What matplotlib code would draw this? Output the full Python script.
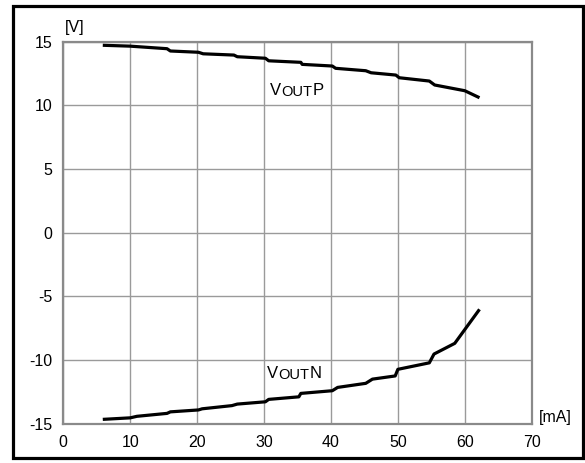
"""Output voltage vs. load current (VOUTP / VOUTN)."""

import matplotlib.pyplot as plt
import matplotlib.patches as mpatches

plt.rcParams["font.family"] = ["Liberation Sans", "DejaVu Sans"]
plt.rcParams["axes.unicode_minus"] = False

# load current [mA] and output voltages [V]
i_p = [5.9, 10.0, 15.5, 16.0, 20.2, 20.9, 25.5, 26.0, 30.2, 30.7, 35.5, 35.7,
       40.2, 40.7, 45.2, 46.0, 49.7, 50.2, 54.7, 55.5, 60.0, 62.2]
v_p = [14.72, 14.65, 14.45, 14.27, 14.17, 14.05, 13.95, 13.82, 13.70, 13.50,
       13.38, 13.22, 13.09, 12.91, 12.72, 12.56, 12.38, 12.17, 11.91, 11.60,
       11.15, 10.60]

i_n = [5.9, 10.0, 11.0, 15.5, 16.0, 20.2, 20.75, 25.2, 26.0, 30.2, 30.7, 35.2,
       35.5, 40.2, 41.0, 45.2, 46.2, 49.6, 50.0, 54.7, 55.4, 58.5, 62.2]
v_n = [-14.66, -14.54, -14.42, -14.19, -14.07, -13.92, -13.83, -13.58, -13.46,
       -13.28, -13.09, -12.89, -12.62, -12.41, -12.15, -11.83, -11.50, -11.25,
       -10.73, -10.22, -9.53, -8.69, -6.02]

x_ticks = [0, 10, 20, 30, 40, 50, 60, 70]
y_ticks = [-15, -10, -5, 0, 5, 10, 15]

fig = plt.figure(figsize=(5.85, 4.63), dpi=100)
ax = fig.add_axes([63.3 / 585, 39.3 / 463, 468.4 / 585, 382.0 / 463])

ax.plot(i_p, v_p, color="black", linewidth=2.3, solid_capstyle="butt")
ax.plot(i_n, v_n, color="black", linewidth=2.3, solid_capstyle="butt")

ax.set_xlim(0, 70)
ax.set_ylim(-15, 15)
ax.set_xticks(x_ticks)
ax.set_yticks(y_ticks)
ax.tick_params(length=0, labelsize=11.5, pad=8)
ax.grid(True, color="#9a9a9a", linewidth=1.0)
ax.set_axisbelow(True)
for sp in ax.spines.values():
    sp.set_color("#8a8a8a")
    sp.set_linewidth(1.6)

# unit labels
ax.text(0.3, 15.5, "[V]", fontsize=11.5, ha="left", va="bottom")
ax.text(71.0, -15.1, "[mA]", fontsize=11.5, ha="left", va="bottom")

# curve labels, small-caps style subscript
def vout_label(x, y, suffix):
    ax.text(x, y, "V", fontsize=12, ha="left", va="baseline")
    ax.text(x + 1.6, y - 0.08, "OUT", fontsize=10.5, ha="left", va="baseline")
    ax.text(x + 6.3, y, suffix, fontsize=12, ha="left", va="baseline")

vout_label(30.9, 10.85, "P")
vout_label(30.5, -11.42, "N")

# outer frame
fig.patches.append(mpatches.Rectangle(
    (12.5 / 585, 5.5 / 463), 570.5 / 585, 452 / 463,
    transform=fig.transFigure, fill=False, edgecolor="black", linewidth=2.3))

fig.savefig("out.png", dpi=100)
plt.close(fig)
